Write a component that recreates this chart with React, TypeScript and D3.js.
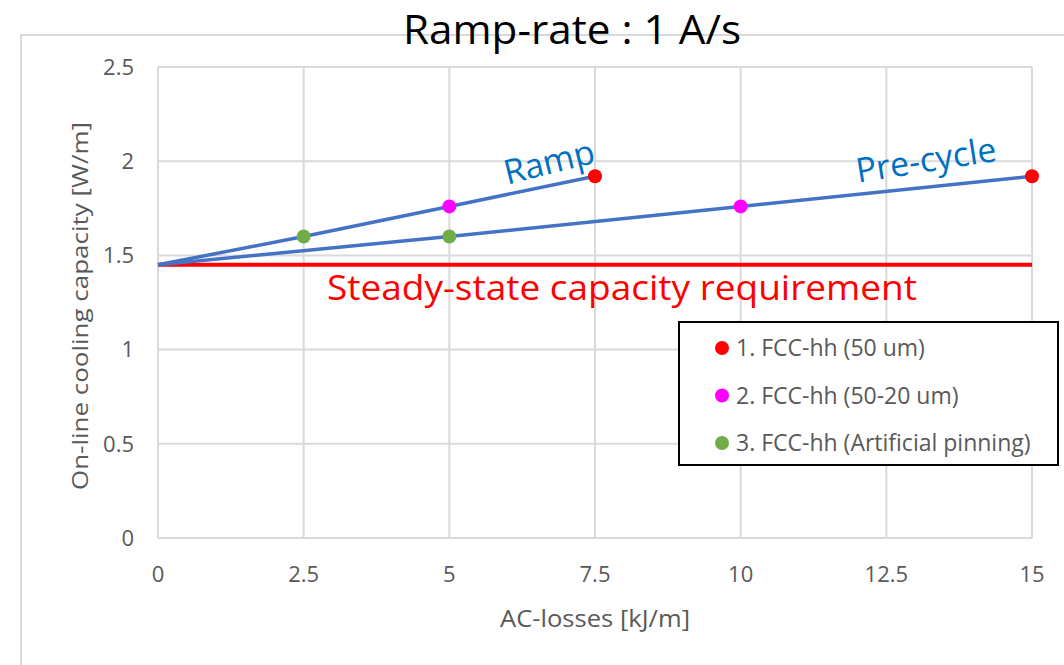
import React, { useRef, useEffect } from "react";
import * as d3 from "d3";

// data
const rampX = [0, 2.5, 5, 7.5];
const rampY = [1.45, 1.6, 1.76, 1.92];
const precycleX = [0, 5, 10, 15];
const precycleY = [1.45, 1.6, 1.76, 1.92];
const markerColors = ["#70AD47", "#FF00FF", "#FF0000"]; // green, magenta, red (by point index 1..3)
const steadyState = 1.45;
const xTicks = [0, 2.5, 5, 7.5, 10, 12.5, 15];
const yTicks = [0, 0.5, 1, 1.5, 2, 2.5];
const legendLabels = ["1. FCC-hh (50 um)", "2. FCC-hh (50-20 um)", "3. FCC-hh (Artificial pinning)"];
const legendColors = ["#FF0000", "#FF00FF", "#70AD47"];

const FONT = "'Open Sans', 'DejaVu Sans', sans-serif";

export default function App() {
  const ref = useRef<SVGSVGElement>(null);

  useEffect(() => {
    const width = 1064;
    const height = 665;
    const margin = { top: 67, right: 32, bottom: 127, left: 158 };

    const svg = d3.select(ref.current);
    svg.selectAll("*").remove();
    svg.attr("width", width).attr("height", height);

    svg.append("rect").attr("width", width).attr("height", height).attr("fill", "#fff");

    // outer chart frame
    svg.append("path")
      .attr("d", `M21,${height + 5}V35H${width + 5}`)
      .attr("fill", "none")
      .attr("stroke", "#d9d9d9")
      .attr("stroke-width", 2);

    const x = d3.scaleLinear().domain([0, 15]).range([margin.left, width - margin.right]);
    const y = d3.scaleLinear().domain([0, 2.5]).range([height - margin.bottom, margin.top]);

    // grid
    const grid = svg.append("g").attr("stroke", "#d9d9d9").attr("stroke-width", 2);
    grid.selectAll("line.h")
      .data(yTicks)
      .enter()
      .append("line")
      .attr("x1", x(0)).attr("x2", x(15))
      .attr("y1", d => y(d)).attr("y2", d => y(d));
    grid.selectAll("line.v")
      .data(xTicks)
      .enter()
      .append("line")
      .attr("y1", y(0)).attr("y2", y(2.5))
      .attr("x1", d => x(d)).attr("x2", d => x(d));

    // tick labels
    svg.append("g")
      .selectAll("text")
      .data(yTicks)
      .enter()
      .append("text")
      .attr("x", x(0) - 24)
      .attr("y", d => y(d))
      .attr("dy", "0.35em")
      .attr("text-anchor", "end")
      .style("font-family", FONT)
      .style("font-size", "22px")
      .style("fill", "#595959")
      .text(d => d);

    svg.append("g")
      .selectAll("text")
      .data(xTicks)
      .enter()
      .append("text")
      .attr("x", d => x(d))
      .attr("y", y(0) + 36)
      .attr("dy", "0.35em")
      .attr("text-anchor", "middle")
      .style("font-family", FONT)
      .style("font-size", "22px")
      .style("fill", "#595959")
      .text(d => d);

    // axis titles
    svg.append("text")
      .attr("x", 595)
      .attr("y", 619)
      .attr("dy", "0.35em")
      .attr("text-anchor", "middle")
      .attr("textLength", 190)
      .attr("lengthAdjust", "spacingAndGlyphs")
      .style("font-family", FONT)
      .style("font-size", "23px")
      .style("fill", "#595959")
      .text("AC-losses [kJ/m]");

    svg.append("text")
      .attr("transform", "translate(80,306) rotate(-90)")
      .attr("dy", "0.35em")
      .attr("text-anchor", "middle")
      .attr("textLength", 368)
      .attr("lengthAdjust", "spacingAndGlyphs")
      .style("font-family", FONT)
      .style("font-size", "22px")
      .style("fill", "#595959")
      .text("On-line cooling capacity [W/m]");

    // title
    svg.append("text")
      .attr("x", 572)
      .attr("y", 44)
      .attr("text-anchor", "middle")
      .attr("textLength", 338)
      .attr("lengthAdjust", "spacingAndGlyphs")
      .style("font-family", FONT)
      .style("font-size", "40px")
      .style("fill", "#000")
      .text("Ramp-rate : 1 A/s");

    // steady-state requirement
    svg.append("line")
      .attr("x1", x(0)).attr("x2", x(15))
      .attr("y1", y(steadyState)).attr("y2", y(steadyState))
      .attr("stroke", "#FF0000")
      .attr("stroke-width", 4);

    svg.append("text")
      .attr("x", 622)
      .attr("y", 300)
      .attr("text-anchor", "middle")
      .attr("textLength", 590)
      .attr("lengthAdjust", "spacingAndGlyphs")
      .style("font-family", FONT)
      .style("font-size", "34px")
      .style("fill", "#FF0000")
      .text("Steady-state capacity requirement");

    // lines
    const series = [
      { xs: rampX, ys: rampY },
      { xs: precycleX, ys: precycleY },
    ];

    series.forEach(s => {
      const pts: [number, number][] = s.xs.map((v, i) => [x(v), y(s.ys[i])]);
      svg.append("path")
        .attr("d", d3.line()(pts))
        .attr("fill", "none")
        .attr("stroke", "#4472C4")
        .attr("stroke-width", 3.5);
    });

    series.forEach(s => {
      svg.append("g")
        .selectAll("circle")
        .data(s.xs.slice(1))
        .enter()
        .append("circle")
        .attr("cx", d => x(d))
        .attr("cy", (d, i) => y(s.ys[i + 1]))
        .attr("r", 7)
        .attr("fill", (d, i) => markerColors[i]);
    });

    // series annotations
    svg.append("text")
      .attr("transform", "translate(549,162) rotate(-14)")
      .attr("dy", "0.35em")
      .attr("text-anchor", "middle")
      .style("font-family", FONT)
      .style("font-size", "34px")
      .style("fill", "#0070C0")
      .text("Ramp");

    svg.append("text")
      .attr("transform", "translate(926,160) rotate(-9)")
      .attr("dy", "0.35em")
      .attr("text-anchor", "middle")
      .style("font-family", FONT)
      .style("font-size", "34px")
      .style("fill", "#0070C0")
      .text("Pre-cycle");

    // legend
    const lg = svg.append("g");
    lg.append("rect")
      .attr("x", 679).attr("y", 322)
      .attr("width", 379).attr("height", 143)
      .attr("fill", "#fff")
      .attr("stroke", "#000")
      .attr("stroke-width", 2);
    const rows = lg.selectAll("g.row")
      .data(legendLabels)
      .enter()
      .append("g")
      .attr("transform", (d, i) => `translate(722,${348 + i * 47.5})`);
    rows.append("circle")
      .attr("r", 7)
      .attr("fill", (d, i) => legendColors[i]);
    rows.append("text")
      .attr("x", 14)
      .attr("dy", "0.35em")
      .style("font-family", FONT)
      .style("font-size", "23px")
      .style("fill", "#595959")
      .text(d => d);
  }, []);

  return (
    <svg ref={ref} style={{ position: "absolute", left: 0, top: 0, width: 1064, height: 665 }}></svg>
  );
}
